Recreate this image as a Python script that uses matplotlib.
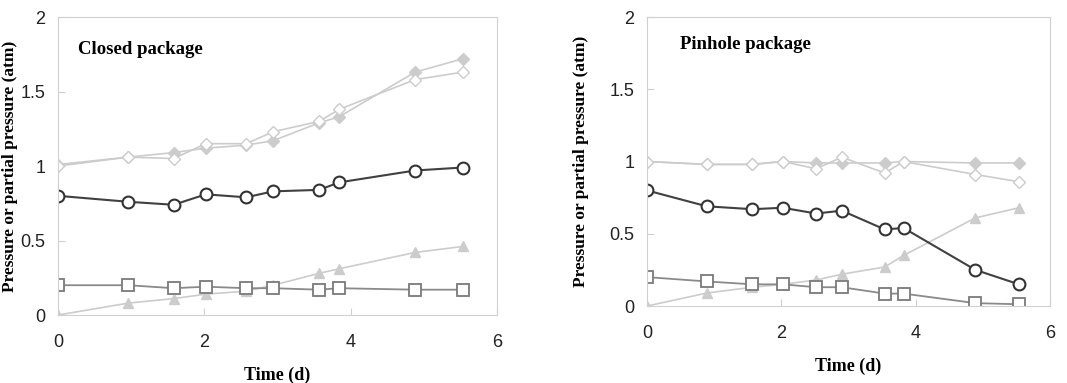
import matplotlib.pyplot as plt

# closed package
t_closed = [0, 0.96, 1.58, 2.02, 2.57, 2.94, 3.57, 3.84, 4.88, 5.53]
total_closed = [1.01, 1.06, 1.09, 1.12, 1.14, 1.17, 1.29, 1.33, 1.63, 1.72]
total_closed_open = [1.0, 1.06, 1.05, 1.15, 1.15, 1.23, 1.30, 1.38, 1.58, 1.63]
o2_closed = [0.80, 0.76, 0.74, 0.81, 0.79, 0.83, 0.84, 0.89, 0.97, 0.99]
co2_closed = [0, 0.08, 0.11, 0.14, 0.16, 0.20, 0.28, 0.31, 0.42, 0.46]
n2_closed = [0.20, 0.20, 0.18, 0.19, 0.18, 0.18, 0.17, 0.18, 0.17, 0.17]

# pinhole package
t_pin = [0, 0.89, 1.57, 2.02, 2.52, 2.90, 3.54, 3.82, 4.89, 5.54]
total_pin = [1.0, 0.98, 0.98, 1.0, 0.99, 0.99, 0.99, 1.0, 0.99, 0.99]
total_pin_open = [1.0, 0.98, 0.98, 1.0, 0.95, 1.03, 0.92, 1.0, 0.91, 0.86]
o2_pin = [0.80, 0.69, 0.67, 0.68, 0.64, 0.66, 0.53, 0.54, 0.25, 0.15]
co2_pin = [0, 0.09, 0.13, 0.15, 0.18, 0.22, 0.27, 0.35, 0.61, 0.68]
n2_pin = [0.20, 0.17, 0.15, 0.15, 0.13, 0.13, 0.086, 0.086, 0.02, 0.012]

yticks = [0, 0.5, 1, 1.5, 2]
yticklabels = ['0', '0.5', '1', '1.5', '2']
xticks = [0, 2, 4, 6]

fig = plt.figure(figsize=(10.67, 3.83), dpi=100)
ax1 = fig.add_axes([0.0544, 0.1775, 0.4114, 0.778])
ax2 = fig.add_axes([0.6064, 0.2010, 0.3776, 0.7546])

light = '#cccccc'
panels = [
    (ax1, t_closed, total_closed, total_closed_open, o2_closed, co2_closed, n2_closed,
     'Closed package', (0.27, 1.78)),
    (ax2, t_pin, total_pin, total_pin_open, o2_pin, co2_pin, n2_pin,
     'Pinhole package', (0.49, 1.81)),
]

for ax, t, tot, tot2, o2, co2, n2, title, pos in panels:
    ax.plot(t, tot, '-D', color=light, mfc=light, mec=light, ms=6, lw=1.2)
    ax.plot(t, tot2, '-D', color=light, mfc='white', mec=light, ms=6, lw=1.2)
    ax.plot(t, co2, '-^', color=light, mfc=light, mec=light, ms=7, lw=1.2)
    ax.plot(t, n2, '-s', color='#8a8a8a', mfc='white', mec='#7a7a7a', ms=8, mew=1.3, lw=1.3)
    ax.plot(t, o2, '-o', color='#404040', mfc='white', mec='#333333', ms=8.5, mew=1.5, lw=1.5)
    ax.set_xlim(0, 6)
    ax.set_ylim(0, 2)
    ax.set_xticks(xticks)
    ax.set_yticks(yticks)
    ax.set_yticklabels(yticklabels)
    for s in ax.spines.values():
        s.set_color('#d0d0d0')
    ax.tick_params(axis='both', direction='in', color='#d0d0d0', length=5,
                   labelsize=13, labelcolor='#222222')
    ax.tick_params(axis='x', pad=14)
    ax.tick_params(axis='y', pad=9)
    for lab in ax.get_xticklabels() + ax.get_yticklabels():
        lab.set_family('Liberation Sans')
    ax.text(pos[0], pos[1], title, family='Liberation Serif', fontweight='bold',
            fontsize=13.5, va='center', ha='left')
    ax.set_xlabel('Time (d)', family='Liberation Serif', fontweight='bold', fontsize=13)
    ax.set_ylabel('Pressure or partial pressure (atm)', family='Liberation Serif',
                  fontweight='bold', fontsize=12.5)

ax1.xaxis.set_label_coords(0.5, -0.175)
ax1.yaxis.set_label_coords(-0.092, 0.5)
ax2.xaxis.set_label_coords(0.5, -0.18)
ax2.yaxis.set_label_coords(-0.145, 0.5)

fig.savefig('out.png', dpi=100)
